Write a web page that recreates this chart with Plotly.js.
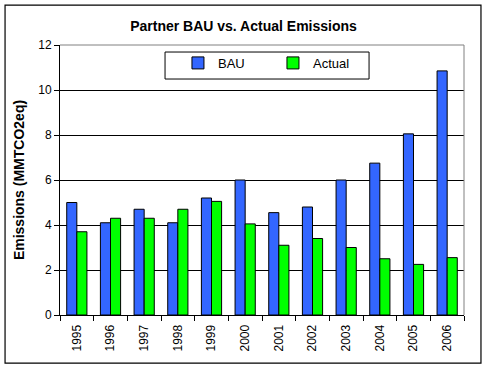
<!DOCTYPE html>
<html>
<head>
<script src="https://cdn.plot.ly/plotly-3.0.1.min.js"></script>
<style>body{margin:0;padding:0;background:#fff}#chart{width:487px;height:369px}</style>
</head>
<body>
<div id="chart"></div>
<script>
const years = ["1995","1996","1997","1998","1999","2000","2001","2002","2003","2004","2005","2006"];
const bauValues = [5.0, 4.1, 4.7, 4.1, 5.2, 6.0, 4.55, 4.8, 6.0, 6.75, 8.05, 10.85];
const actualValues = [3.7, 4.3, 4.3, 4.7, 5.05, 4.05, 3.1, 3.4, 3.0, 2.5, 2.25, 2.55];
const yTicks = [0, 2, 4, 6, 8, 10, 12];

const font = "Liberation Sans, Arial, sans-serif";
const traces = [
  {type:"bar", name:"BAU", x:years, y:bauValues,
   marker:{color:"#3366FF", line:{color:"#000", width:1}}},
  {type:"bar", name:"Actual", x:years, y:actualValues,
   marker:{color:"#00FF00", line:{color:"#000", width:1}}}
];
const layout = {
  width:487, height:369,
  margin:{l:60, r:23, t:45, b:54},
  paper_bgcolor:"#fff", plot_bgcolor:"#fff",
  font:{family:font, color:"#000"},
  title:{text:"<b>Partner BAU vs. Actual Emissions</b>", font:{size:14, family:font}, x:0.5, xanchor:"center", y:0.93, yanchor:"middle"},
  barmode:"group", bargap:0.4, bargroupgap:0,
  showlegend:true,
  legend:{orientation:"h", x:0.292, y:0.989, xanchor:"left", yanchor:"top",
    borderwidth:0, bgcolor:"rgba(0,0,0,0)",
    font:{size:13, family:font}, entrywidth:50, entrywidthmode:"pixels",
    itemclick:false},
  xaxis:{type:"category", tickangle:-90, tickfont:{size:12}, showline:true, linecolor:"#000", linewidth:1,
    ticks:"outside", ticklen:5, tickcolor:"#000", tickson:"boundaries", showgrid:false, zeroline:false,
    ticklabelstandoff:4},
  yaxis:{range:[0,12], tickvals:yTicks, ticktext:yTicks.map(String), tickfont:{size:12},
    showline:true, linecolor:"#000", linewidth:1, ticks:"outside", ticklen:5, tickcolor:"#000",
    showgrid:true, gridcolor:"#000", gridwidth:1, zeroline:false,
    title:{text:"<b>Emissions (MMTCO2eq)</b>", font:{size:14, family:font}, standoff:10}},
  shapes:[
    {type:"line", xref:"paper", yref:"paper", x0:0, x1:1, y0:1, y1:1, line:{color:"#808080", width:1}},
    {type:"line", xref:"paper", yref:"paper", x0:1, x1:1, y0:0, y1:1, line:{color:"#808080", width:1}},
    {type:"rect", xref:"paper", yref:"paper", x0:0.26, x1:0.765, y0:0.874, y1:0.974, line:{color:"#000", width:1}, fillcolor:"#fff", layer:"above"},
    {type:"rect", xref:"paper", yref:"paper", x0:-0.136, x1:1.042, y0:-0.178, y1:1.148, line:{color:"#000", width:1.2}, fillcolor:"rgba(0,0,0,0)", layer:"below"}
  ]
};
Plotly.newPlot("chart", traces, layout, {displayModeBar:false, staticPlot:true});
</script>
</body>
</html>
